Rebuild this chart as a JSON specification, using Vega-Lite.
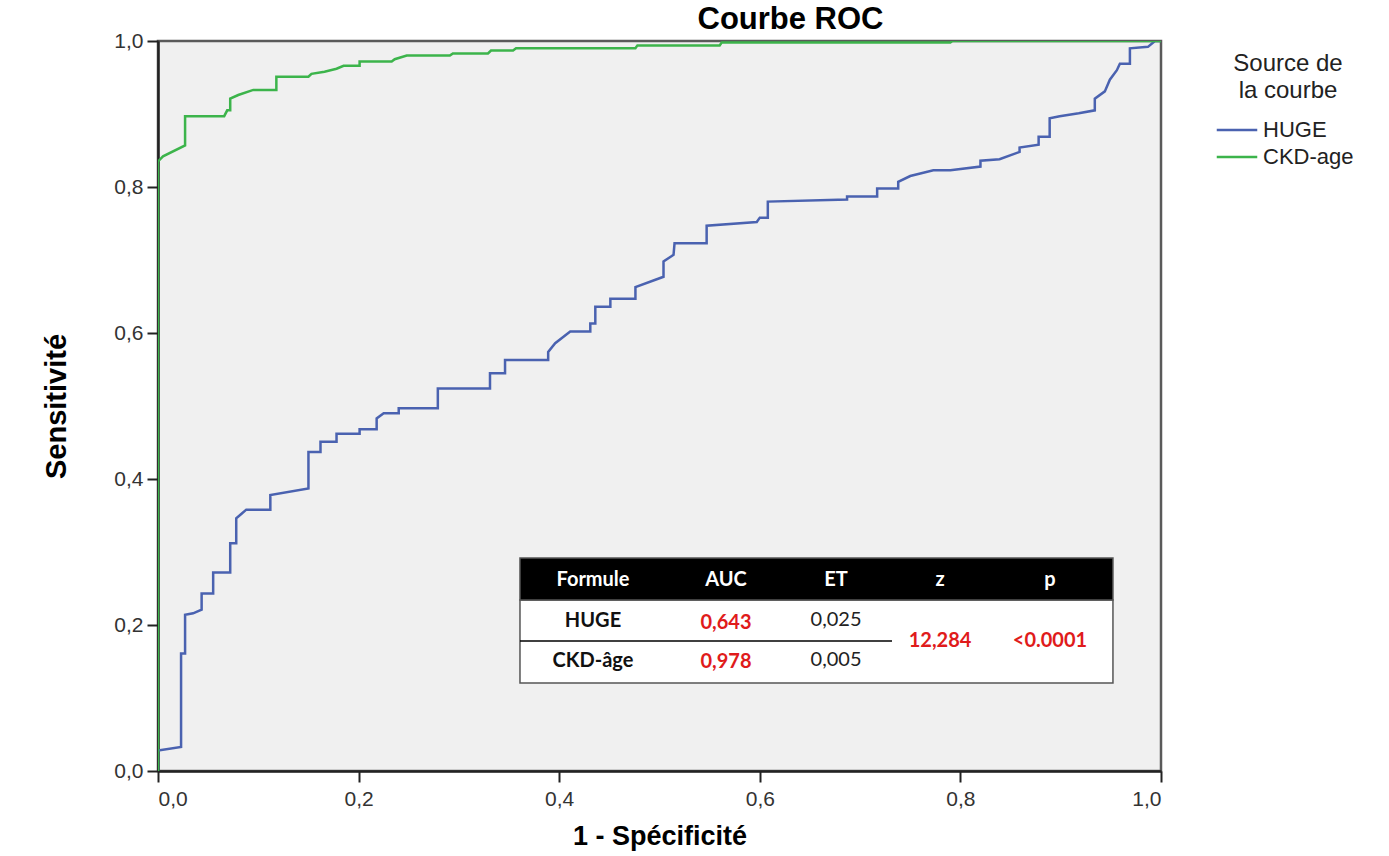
{
  "$schema": "https://vega.github.io/schema/vega-lite/v6.json",
  "autosize": {"type": "none"},
  "width": 1003,
  "height": 730,
  "padding": {"left": 158, "top": 41, "right": 228, "bottom": 85},
  "background": "white",
  "title": {
    "text": "Courbe ROC",
    "font": "Liberation Sans",
    "fontSize": 31,
    "fontWeight": "bold",
    "color": "#000000",
    "anchor": "middle",
    "dx": 131,
    "offset": -6
  },
  "config": {
    "view": {"fill": "#f0f0f0", "stroke": "#5a5a5a", "strokeWidth": 2.5},
    "axis": {
      "grid": false,
      "domainColor": "#222222",
      "domainWidth": 2.5,
      "tickColor": "#222222",
      "tickWidth": 2,
      "tickSize": 11,
      "labelFont": "Liberation Sans",
      "labelFontSize": 21,
      "labelColor": "#333333",
      "titleFont": "Liberation Sans",
      "titleFontSize": 29,
      "titleFontWeight": "bold",
      "titleColor": "#000000"
    }
  },
  "datasets": {
    "roc": [
      {"serie": "HUGE", "fpr": 0.0, "tpr": 0.0},
      {"serie": "HUGE", "fpr": 0.0, "tpr": 0.028},
      {"serie": "HUGE", "fpr": 0.023, "tpr": 0.033},
      {"serie": "HUGE", "fpr": 0.023, "tpr": 0.161},
      {"serie": "HUGE", "fpr": 0.027, "tpr": 0.161},
      {"serie": "HUGE", "fpr": 0.027, "tpr": 0.214},
      {"serie": "HUGE", "fpr": 0.035, "tpr": 0.216},
      {"serie": "HUGE", "fpr": 0.0435, "tpr": 0.221},
      {"serie": "HUGE", "fpr": 0.0435, "tpr": 0.243},
      {"serie": "HUGE", "fpr": 0.055, "tpr": 0.243},
      {"serie": "HUGE", "fpr": 0.055, "tpr": 0.272},
      {"serie": "HUGE", "fpr": 0.072, "tpr": 0.272},
      {"serie": "HUGE", "fpr": 0.072, "tpr": 0.312},
      {"serie": "HUGE", "fpr": 0.078, "tpr": 0.312},
      {"serie": "HUGE", "fpr": 0.078, "tpr": 0.346},
      {"serie": "HUGE", "fpr": 0.083, "tpr": 0.352},
      {"serie": "HUGE", "fpr": 0.088, "tpr": 0.358},
      {"serie": "HUGE", "fpr": 0.112, "tpr": 0.358},
      {"serie": "HUGE", "fpr": 0.112, "tpr": 0.378},
      {"serie": "HUGE", "fpr": 0.15, "tpr": 0.387},
      {"serie": "HUGE", "fpr": 0.15, "tpr": 0.437},
      {"serie": "HUGE", "fpr": 0.162, "tpr": 0.437},
      {"serie": "HUGE", "fpr": 0.162, "tpr": 0.451},
      {"serie": "HUGE", "fpr": 0.178, "tpr": 0.451},
      {"serie": "HUGE", "fpr": 0.178, "tpr": 0.462},
      {"serie": "HUGE", "fpr": 0.201, "tpr": 0.462},
      {"serie": "HUGE", "fpr": 0.201, "tpr": 0.468},
      {"serie": "HUGE", "fpr": 0.218, "tpr": 0.468},
      {"serie": "HUGE", "fpr": 0.218, "tpr": 0.483},
      {"serie": "HUGE", "fpr": 0.225, "tpr": 0.49},
      {"serie": "HUGE", "fpr": 0.24, "tpr": 0.49},
      {"serie": "HUGE", "fpr": 0.24, "tpr": 0.497},
      {"serie": "HUGE", "fpr": 0.279, "tpr": 0.497},
      {"serie": "HUGE", "fpr": 0.279, "tpr": 0.524},
      {"serie": "HUGE", "fpr": 0.331, "tpr": 0.524},
      {"serie": "HUGE", "fpr": 0.331, "tpr": 0.545},
      {"serie": "HUGE", "fpr": 0.346, "tpr": 0.545},
      {"serie": "HUGE", "fpr": 0.346, "tpr": 0.563},
      {"serie": "HUGE", "fpr": 0.389, "tpr": 0.563},
      {"serie": "HUGE", "fpr": 0.389, "tpr": 0.574},
      {"serie": "HUGE", "fpr": 0.396, "tpr": 0.586},
      {"serie": "HUGE", "fpr": 0.411, "tpr": 0.602},
      {"serie": "HUGE", "fpr": 0.431, "tpr": 0.602},
      {"serie": "HUGE", "fpr": 0.431, "tpr": 0.613},
      {"serie": "HUGE", "fpr": 0.436, "tpr": 0.613},
      {"serie": "HUGE", "fpr": 0.436, "tpr": 0.636},
      {"serie": "HUGE", "fpr": 0.451, "tpr": 0.636},
      {"serie": "HUGE", "fpr": 0.451, "tpr": 0.647},
      {"serie": "HUGE", "fpr": 0.476, "tpr": 0.647},
      {"serie": "HUGE", "fpr": 0.476, "tpr": 0.663},
      {"serie": "HUGE", "fpr": 0.504, "tpr": 0.677},
      {"serie": "HUGE", "fpr": 0.504, "tpr": 0.698},
      {"serie": "HUGE", "fpr": 0.514, "tpr": 0.707},
      {"serie": "HUGE", "fpr": 0.515, "tpr": 0.723},
      {"serie": "HUGE", "fpr": 0.547, "tpr": 0.723},
      {"serie": "HUGE", "fpr": 0.547, "tpr": 0.747},
      {"serie": "HUGE", "fpr": 0.597, "tpr": 0.752},
      {"serie": "HUGE", "fpr": 0.6, "tpr": 0.758},
      {"serie": "HUGE", "fpr": 0.608, "tpr": 0.758},
      {"serie": "HUGE", "fpr": 0.608, "tpr": 0.78},
      {"serie": "HUGE", "fpr": 0.687, "tpr": 0.783},
      {"serie": "HUGE", "fpr": 0.687, "tpr": 0.787},
      {"serie": "HUGE", "fpr": 0.717, "tpr": 0.787},
      {"serie": "HUGE", "fpr": 0.717, "tpr": 0.798},
      {"serie": "HUGE", "fpr": 0.738, "tpr": 0.798},
      {"serie": "HUGE", "fpr": 0.738, "tpr": 0.807},
      {"serie": "HUGE", "fpr": 0.75, "tpr": 0.815},
      {"serie": "HUGE", "fpr": 0.773, "tpr": 0.823},
      {"serie": "HUGE", "fpr": 0.79, "tpr": 0.823},
      {"serie": "HUGE", "fpr": 0.82, "tpr": 0.828},
      {"serie": "HUGE", "fpr": 0.82, "tpr": 0.836},
      {"serie": "HUGE", "fpr": 0.839, "tpr": 0.838},
      {"serie": "HUGE", "fpr": 0.859, "tpr": 0.848},
      {"serie": "HUGE", "fpr": 0.859, "tpr": 0.854},
      {"serie": "HUGE", "fpr": 0.878, "tpr": 0.858},
      {"serie": "HUGE", "fpr": 0.878, "tpr": 0.869},
      {"serie": "HUGE", "fpr": 0.889, "tpr": 0.869},
      {"serie": "HUGE", "fpr": 0.889, "tpr": 0.894},
      {"serie": "HUGE", "fpr": 0.899, "tpr": 0.897},
      {"serie": "HUGE", "fpr": 0.918, "tpr": 0.901},
      {"serie": "HUGE", "fpr": 0.934, "tpr": 0.905},
      {"serie": "HUGE", "fpr": 0.934, "tpr": 0.921},
      {"serie": "HUGE", "fpr": 0.944, "tpr": 0.931},
      {"serie": "HUGE", "fpr": 0.949, "tpr": 0.947},
      {"serie": "HUGE", "fpr": 0.956, "tpr": 0.96},
      {"serie": "HUGE", "fpr": 0.959, "tpr": 0.969},
      {"serie": "HUGE", "fpr": 0.969, "tpr": 0.969},
      {"serie": "HUGE", "fpr": 0.969, "tpr": 0.99},
      {"serie": "HUGE", "fpr": 0.987, "tpr": 0.992},
      {"serie": "HUGE", "fpr": 0.994, "tpr": 1.0},
      {"serie": "HUGE", "fpr": 1.0, "tpr": 1.0},
      {"serie": "CKD-age", "fpr": 0.0, "tpr": 0.0},
      {"serie": "CKD-age", "fpr": 0.0, "tpr": 0.835},
      {"serie": "CKD-age", "fpr": 0.005, "tpr": 0.842},
      {"serie": "CKD-age", "fpr": 0.027, "tpr": 0.857},
      {"serie": "CKD-age", "fpr": 0.027, "tpr": 0.897},
      {"serie": "CKD-age", "fpr": 0.066, "tpr": 0.897},
      {"serie": "CKD-age", "fpr": 0.069, "tpr": 0.905},
      {"serie": "CKD-age", "fpr": 0.072, "tpr": 0.905},
      {"serie": "CKD-age", "fpr": 0.072, "tpr": 0.921},
      {"serie": "CKD-age", "fpr": 0.08, "tpr": 0.926},
      {"serie": "CKD-age", "fpr": 0.095, "tpr": 0.933},
      {"serie": "CKD-age", "fpr": 0.118, "tpr": 0.933},
      {"serie": "CKD-age", "fpr": 0.118, "tpr": 0.951},
      {"serie": "CKD-age", "fpr": 0.15, "tpr": 0.951},
      {"serie": "CKD-age", "fpr": 0.153, "tpr": 0.955},
      {"serie": "CKD-age", "fpr": 0.166, "tpr": 0.958},
      {"serie": "CKD-age", "fpr": 0.178, "tpr": 0.962},
      {"serie": "CKD-age", "fpr": 0.185, "tpr": 0.966},
      {"serie": "CKD-age", "fpr": 0.201, "tpr": 0.966},
      {"serie": "CKD-age", "fpr": 0.201, "tpr": 0.972},
      {"serie": "CKD-age", "fpr": 0.233, "tpr": 0.972},
      {"serie": "CKD-age", "fpr": 0.236, "tpr": 0.975},
      {"serie": "CKD-age", "fpr": 0.248, "tpr": 0.98},
      {"serie": "CKD-age", "fpr": 0.291, "tpr": 0.98},
      {"serie": "CKD-age", "fpr": 0.294, "tpr": 0.983},
      {"serie": "CKD-age", "fpr": 0.329, "tpr": 0.983},
      {"serie": "CKD-age", "fpr": 0.332, "tpr": 0.987},
      {"serie": "CKD-age", "fpr": 0.354, "tpr": 0.987},
      {"serie": "CKD-age", "fpr": 0.357, "tpr": 0.99},
      {"serie": "CKD-age", "fpr": 0.476, "tpr": 0.99},
      {"serie": "CKD-age", "fpr": 0.478, "tpr": 0.994},
      {"serie": "CKD-age", "fpr": 0.56, "tpr": 0.994},
      {"serie": "CKD-age", "fpr": 0.562, "tpr": 0.998},
      {"serie": "CKD-age", "fpr": 0.79, "tpr": 0.998},
      {"serie": "CKD-age", "fpr": 0.792, "tpr": 1.0},
      {"serie": "CKD-age", "fpr": 1.0, "tpr": 1.0}
    ],
    "tableBoxes": [
      {"part": "body", "x1": 0.3609, "x2": 0.9521, "y1": 0.1205, "y2": 0.2342},
      {"part": "header", "x1": 0.3609, "x2": 0.9521, "y1": 0.2342, "y2": 0.2918}
    ],
    "tableRule": [
      {"x1": 0.3609, "x2": 0.7318, "y": 0.1781}
    ],
    "tableText": [
      {"label": "Formule", "cx": 0.4337, "cy": 0.2616, "kind": "header"},
      {"label": "AUC", "cx": 0.5663, "cy": 0.2616, "kind": "header"},
      {"label": "ET", "cx": 0.676, "cy": 0.2616, "kind": "header"},
      {"label": "z", "cx": 0.7797, "cy": 0.2616, "kind": "header"},
      {"label": "p", "cx": 0.8893, "cy": 0.2616, "kind": "header"},
      {"label": "HUGE", "cx": 0.4337, "cy": 0.2055, "kind": "name"},
      {"label": "CKD-âge", "cx": 0.4337, "cy": 0.1507, "kind": "name"},
      {"label": "0,643", "cx": 0.5663, "cy": 0.2027, "kind": "red"},
      {"label": "0,978", "cx": 0.5663, "cy": 0.1493, "kind": "red"},
      {"label": "0,025", "cx": 0.676, "cy": 0.2069, "kind": "plain"},
      {"label": "0,005", "cx": 0.676, "cy": 0.1521, "kind": "plain"},
      {"label": "12,284", "cx": 0.7797, "cy": 0.178, "kind": "red"},
      {"label": "<0.0001", "cx": 0.8893, "cy": 0.178, "kind": "red"}
    ]
  },
  "layer": [
    {
      "data": {"name": "roc"},
      "mark": {"type": "line", "strokeWidth": 2.5, "clip": true},
      "encoding": {
        "x": {
          "field": "fpr", "type": "quantitative",
          "scale": {"domain": [0, 1], "nice": false, "zero": false},
          "axis": {
            "title": "1 - Spécificité",
            "titleFontSize": 27,
            "values": [0, 0.2, 0.4, 0.6, 0.8, 1.0],
            "labelExpr": "replace(format(datum.value, '.1f'), '.', ',')",
            "labelPadding": 6,
            "titlePadding": 14
          }
        },
        "y": {
          "field": "tpr", "type": "quantitative",
          "scale": {"domain": [0, 1], "nice": false, "zero": false},
          "axis": {
            "title": "Sensitivité",
            "values": [0, 0.2, 0.4, 0.6, 0.8, 1.0],
            "labelExpr": "replace(format(datum.value, '.1f'), '.', ',')",
            "labelPadding": 4,
            "titlePadding": 42
          }
        },
        "color": {
          "field": "serie", "type": "nominal",
          "scale": {"domain": ["HUGE", "CKD-age"], "range": ["#4a62b0", "#3cb44b"]},
          "legend": {
            "title": ["Source de", "la courbe"],
            "orient": "none",
            "legendX": 1064,
            "legendY": 11,
            "titleFont": "Liberation Sans",
            "titleFontSize": 24,
            "titleFontWeight": "normal",
            "titleColor": "#222222",
            "titleAnchor": "middle",
            "titleAlign": "center",
            "titleLineHeight": 27,
            "titlePadding": 12,
            "labelFont": "Liberation Sans",
            "labelFontSize": 22,
            "labelColor": "#222222",
            "labelOffset": 11,
            "symbolType": "M-1.5,0H1.5",
            "symbolStrokeWidth": 2.5,
            "symbolSize": 729,
            "rowPadding": 1
          }
        },
        "order": {"field": "fpr", "type": "quantitative"}
      }
    },
    {
      "data": {"name": "tableBoxes"},
      "mark": {"type": "rect", "stroke": "#555555", "strokeWidth": 1.5},
      "encoding": {
        "x": {"field": "x1", "type": "quantitative"},
        "x2": {"field": "x2"},
        "y": {"field": "y1", "type": "quantitative"},
        "y2": {"field": "y2"},
        "fill": {"condition": {"test": "datum.part === 'header'", "value": "#000000"}, "value": "#ffffff"}
      }
    },
    {
      "data": {"name": "tableRule"},
      "mark": {"type": "rule", "color": "#000000", "strokeWidth": 1.5},
      "encoding": {
        "x": {"field": "x1", "type": "quantitative"},
        "x2": {"field": "x2"},
        "y": {"field": "y", "type": "quantitative"}
      }
    },
    {
      "data": {"name": "tableText"},
      "transform": [{"filter": "datum.kind !== 'plain'"}],
      "mark": {"type": "text", "font": "Lato", "fontSize": 20, "fontWeight": "bold", "align": "center", "baseline": "middle"},
      "encoding": {
        "x": {"field": "cx", "type": "quantitative"},
        "y": {"field": "cy", "type": "quantitative"},
        "text": {"field": "label"},
        "color": {
          "condition": [
            {"test": "datum.kind === 'header'", "value": "#ffffff"},
            {"test": "datum.kind === 'red'", "value": "#e01b1b"}
          ],
          "value": "#111111"
        }
      }
    },
    {
      "data": {"name": "tableText"},
      "transform": [{"filter": "datum.kind === 'plain'"}],
      "mark": {"type": "text", "font": "Lato", "fontSize": 20, "fontWeight": "normal", "align": "center", "baseline": "middle", "color": "#222222"},
      "encoding": {
        "x": {"field": "cx", "type": "quantitative"},
        "y": {"field": "cy", "type": "quantitative"},
        "text": {"field": "label"}
      }
    }
  ]
}
